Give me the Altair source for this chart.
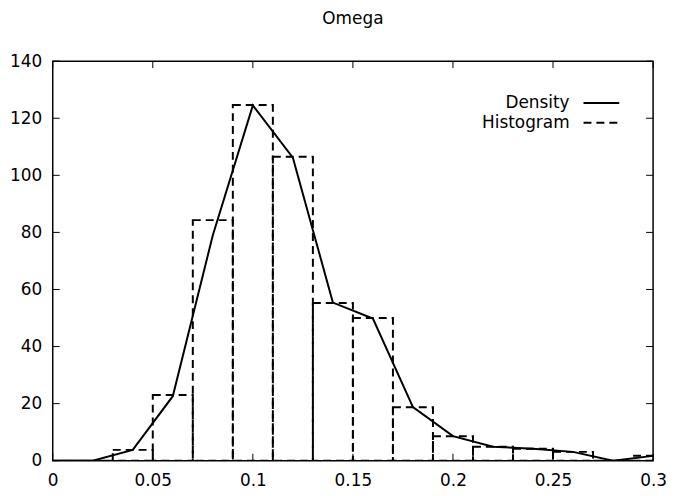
import altair as alt
import pandas as pd

# ---- data ----
bin_centers = [0.00, 0.02, 0.04, 0.06, 0.08, 0.10, 0.12, 0.14, 0.16, 0.18,
               0.20, 0.22, 0.24, 0.26, 0.28, 0.30]
hist_values = [0, 0, 3.8, 23.0, 84.3, 124.6, 106.5, 55.3, 50.0, 18.7,
               8.6, 4.9, 4.2, 3.1, 0, 1.7]
dens_x = [0.00, 0.02, 0.04, 0.06, 0.08, 0.10, 0.12, 0.14, 0.16, 0.18,
          0.20, 0.22, 0.24, 0.26, 0.28, 0.30]
dens_y = [0, 0, 3.8, 22.6, 79.0, 124.5, 106.2, 55.4, 49.8, 18.8,
          8.6, 4.9, 4.2, 3.1, 0, 1.7]
bin_width = 0.02
x_ticks = [0, 0.05, 0.1, 0.15, 0.2, 0.25, 0.3]
y_ticks = [0, 20, 40, 60, 80, 100, 120, 140]
title_text = "Omega"
legend_labels = ["Density", "Histogram"]

# ---- layout / style ----
W, H = 604, 402
FONT = "DejaVu Sans"
FS = 17
DASH = [8, 5]
TICK = 7

hist = pd.DataFrame({
    "left": [c - bin_width / 2 for c in bin_centers],
    "right": [c + bin_width / 2 for c in bin_centers],
    "value": hist_values,
})
dens = pd.DataFrame({"x": dens_x, "y": dens_y})
xt = pd.DataFrame({"v": x_ticks})
yt = pd.DataFrame({"v": y_ticks})
one = pd.DataFrame({"k": [0]})

xscale = alt.Scale(domain=[0, 0.3], nice=False, zero=False)
yscale = alt.Scale(domain=[0, 140], nice=False)

xaxis = alt.Axis(values=x_ticks, format="~g", title=None, labelPadding=12,
                 labelFlush=False)
yaxis = alt.Axis(values=y_ticks, title=None, labelPadding=11)

bars = alt.Chart(hist).mark_rect(
    fillOpacity=0, stroke="black", strokeWidth=2, strokeDash=DASH, clip=True
).encode(
    x=alt.X("left:Q", scale=xscale, axis=xaxis),
    x2="right:Q",
    y=alt.Y("value:Q", scale=yscale, axis=yaxis),
    y2=alt.datum(0),
)

line = alt.Chart(dens).mark_line(color="black", strokeWidth=2, clip=True).encode(
    x=alt.X("x:Q", scale=xscale),
    y=alt.Y("y:Q", scale=yscale),
)

ytick_l = alt.Chart(yt).mark_rule(color="black", strokeWidth=1).encode(
    y=alt.Y("v:Q", scale=yscale), x=alt.value(0), x2=alt.value(TICK))
ytick_r = alt.Chart(yt).mark_rule(color="black", strokeWidth=1).encode(
    y=alt.Y("v:Q", scale=yscale), x=alt.value(W - TICK), x2=alt.value(W))
xtick_b = alt.Chart(xt).mark_rule(color="black", strokeWidth=1).encode(
    x=alt.X("v:Q", scale=xscale), y=alt.value(H), y2=alt.value(H - TICK))
xtick_t = alt.Chart(xt).mark_rule(color="black", strokeWidth=1).encode(
    x=alt.X("v:Q", scale=xscale), y=alt.value(0), y2=alt.value(TICK))

title = alt.Chart(one).mark_text(
    font=FONT, fontSize=FS, color="black", align="center", baseline="middle"
).encode(x=alt.value(W / 2), y=alt.value(-42), text=alt.value(title_text))

leg_txt1 = alt.Chart(one).mark_text(
    font=FONT, fontSize=FS, color="black", align="right", baseline="middle"
).encode(x=alt.value(520), y=alt.value(42), text=alt.value(legend_labels[0]))
leg_txt2 = alt.Chart(one).mark_text(
    font=FONT, fontSize=FS, color="black", align="right", baseline="middle"
).encode(x=alt.value(520), y=alt.value(62), text=alt.value(legend_labels[1]))
leg_l1 = alt.Chart(one).mark_rule(color="black", strokeWidth=2).encode(
    x=alt.value(534), x2=alt.value(570), y=alt.value(42))
leg_l2 = alt.Chart(one).mark_rule(color="black", strokeWidth=2, strokeDash=DASH).encode(
    x=alt.value(534), x2=alt.value(570), y=alt.value(62))

chart = alt.layer(
    bars, line, ytick_l, ytick_r, xtick_b, xtick_t,
    title, leg_txt1, leg_txt2, leg_l1, leg_l2
).properties(
    width=W, height=H,
    autosize=alt.AutoSizeParams(type="none"),
    padding={"left": 45, "top": 52, "right": 13, "bottom": 30},
).configure_axis(
    labelFont=FONT, labelFontSize=FS, labelColor="black",
    ticks=False, tickSize=0, domain=False, grid=False,
).configure_view(
    stroke="black", strokeWidth=1.5
)

chart.save("out.html", embed_options={"renderer": "svg", "actions": False})
